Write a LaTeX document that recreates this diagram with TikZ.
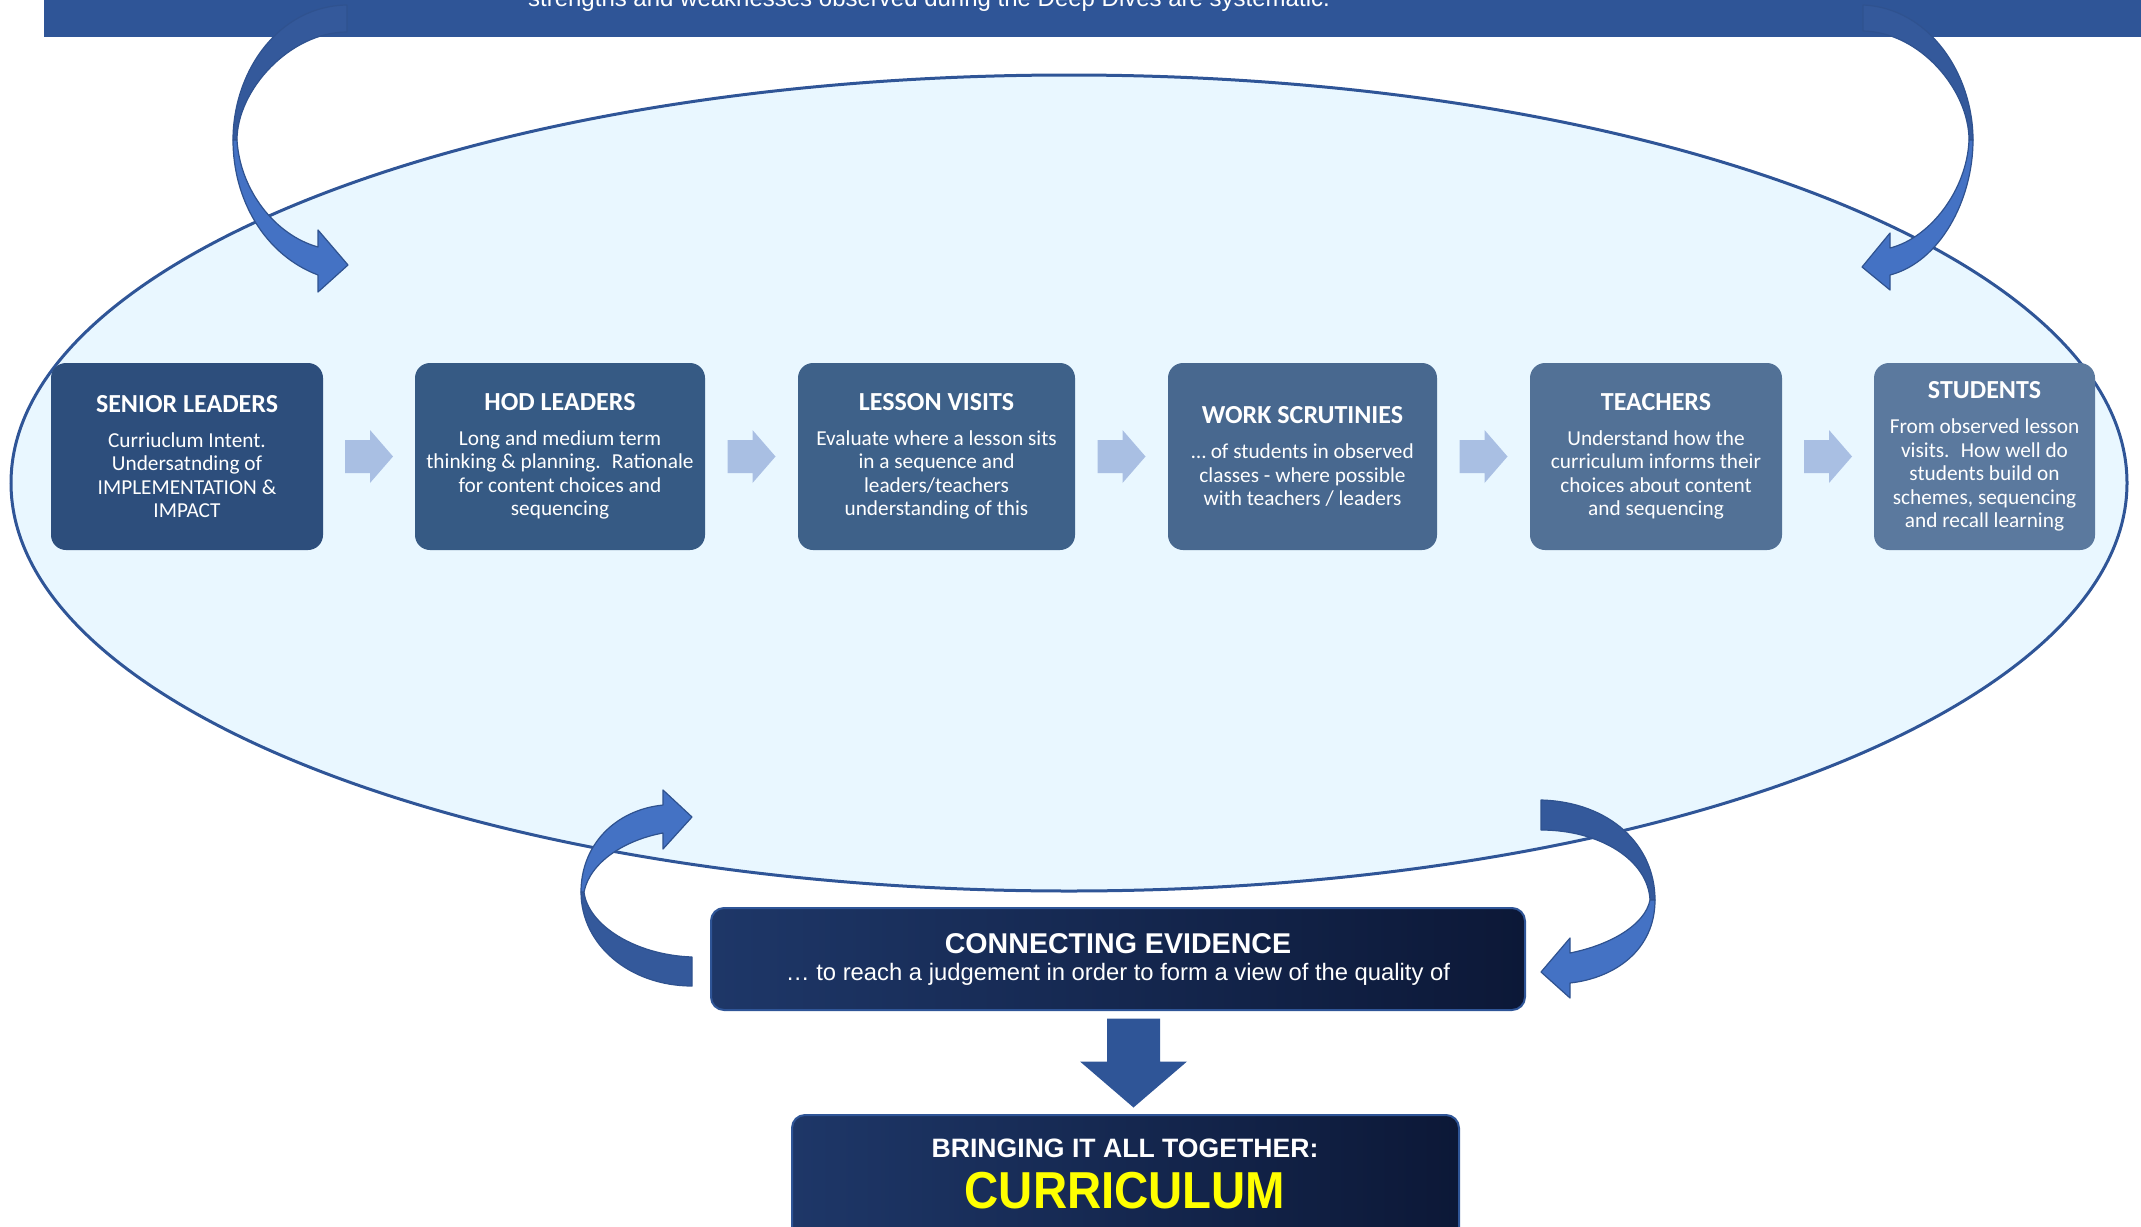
\documentclass[tikz,border=0pt]{standalone}
\usepackage{fontspec}
\setmainfont{Carlito}
\newfontfamily\arialf{Liberation Sans}
\usepackage{graphicx}
\usetikzlibrary{calc}
\definecolor{banner}{HTML}{2F5597}
\definecolor{ellfill}{HTML}{E9F7FF}
\definecolor{ellline}{HTML}{2F5597}
\definecolor{cA}{HTML}{2D4E7C}
\definecolor{cB}{HTML}{365A84}
\definecolor{cC}{HTML}{3E6189}
\definecolor{cD}{HTML}{48688F}
\definecolor{cE}{HTML}{527196}
\definecolor{cF}{HTML}{5B799E}
\definecolor{flowarr}{HTML}{A9BFE3}
\definecolor{backarr}{HTML}{34599B}
\definecolor{frontarr}{HTML}{4472C4}
\definecolor{arrline}{HTML}{2F528F}
\definecolor{darkL}{HTML}{1E3768}
\definecolor{darkR}{HTML}{0C1837}
\definecolor{curyellow}{HTML}{FFFF00}
\newcommand{\ttl}[1]{{\fontsize{26}{30}\selectfont\bfseries #1}\\[11.5pt]}
\begin{document}
\begin{tikzpicture}[x=1pt,y=-1pt,
  stagebox/.style={rounded corners=15pt, inner sep=0pt, text=white, align=center,
    minimum height=187, font=\fontsize{21.3}{23.5}\selectfont},
  darkbox/.style={rounded corners=13pt, inner sep=0pt, draw=banner, line width=2,
    left color=darkL, right color=darkR},
  backpart/.style={fill=backarr, draw=arrline, line width=1.2, line join=round},
  frontpart/.style={fill=frontarr, draw=arrline, line width=1.2, line join=round},
  flowtip/.style={fill=flowarr},
  downtip/.style={fill=banner},
]
\useasboundingbox (0,0) rectangle (2141,1226);

% top banner
\fill[banner] (44,-20) rectangle (2160,37);
\node[anchor=base, text=white, font=\arialf\fontsize{24}{28}\selectfont, inner sep=0] (bantxt) at (929,6)
  {strengths and weaknesses observed during the Deep Dives are systematic.};

% ellipse
\draw[fill=ellfill, draw=ellline, line width=3] (1069,483) ellipse [x radius=1058, y radius=408];

% stage boxes
\node[stagebox, fill=cA, minimum width=272] (b1) at (187,456.5)
  {\ttl{SENIOR LEADERS}Curriuclum Intent.\\Undersatnding of\\IMPLEMENTATION \&\\IMPACT};
\node[stagebox, fill=cB, minimum width=290] (b2) at (560,456.5)
  {\ttl{HOD LEADERS}Long and medium term\\thinking \& planning.~ Rationale\\for content choices and\\sequencing};
\node[stagebox, fill=cC, minimum width=277] (b3) at (936.5,456.5)
  {\ttl{LESSON VISITS}Evaluate where a lesson sits\\in a sequence and\\leaders/teachers\\understanding of this};
\node[stagebox, fill=cD, minimum width=269] (b4) at (1302.5,456.5)
  {\ttl{WORK SCRUTINIES}… of students in observed\\classes - where possible\\with teachers / leaders};
\node[stagebox, fill=cE, minimum width=252] (b5) at (1656,456.5)
  {\ttl{TEACHERS}Understand how the\\curriculum informs their\\choices about content\\and sequencing};
\node[stagebox, fill=cF, minimum width=221] (b6) at (1984.5,456.5)
  {\ttl{STUDENTS}From observed lesson\\visits.~ How well do\\students build on\\schemes, sequencing\\and recall learning};

% flow arrows between boxes
\foreach \a/\b in {b1/b2,b2/b3,b3/b4,b4/b5,b5/b6}{
  \coordinate (m\a) at ($(\a.east)!0.5!(\b.west)$);
  \fill[flowtip, shift={(m\a)}] (-24,-16.5) -- (1,-16.5) -- (1,-26.5) -- (24,0)
     -- (1,26.5) -- (1,16.5) -- (-24,16.5) -- cycle;
}

% top-left curved arrow
\filldraw[backpart] (347,5) .. controls (278,6) and (233,72) .. (233,140) -- (237,140)
  .. controls (237,90) and (290,32) .. (347,32) -- cycle;
\filldraw[frontpart] (233,140) .. controls (233,200) and (265,255) .. (318,275) -- (318,292)
  -- (348,265) -- (318,230) -- (318,247) .. controls (275,235) and (240,190) .. (237,140) -- cycle;

% top-right curved arrow
\filldraw[backpart] (1863,5) .. controls (1930,8) and (1973,75) .. (1973,140) -- (1969,140)
  .. controls (1969,90) and (1920,32) .. (1863,31) -- cycle;
\filldraw[frontpart] (1973,140) .. controls (1973,200) and (1940,262) .. (1890,275) -- (1890,290)
  -- (1862,267) -- (1890,233) -- (1890,248) .. controls (1930,238) and (1967,190) .. (1969,140) -- cycle;

% bottom-left curved arrow
\filldraw[backpart] (692,986) .. controls (630,986) and (581,945) .. (581,892) -- (584,892)
  .. controls (588,925) and (635,955) .. (692,957) -- cycle;
\filldraw[frontpart] (581,892) .. controls (581,845) and (615,810) .. (663,805) -- (663,790)
  -- (692,817) -- (663,849) -- (663,833) .. controls (625,840) and (590,862) .. (584,892) -- cycle;

% bottom-right curved arrow
\filldraw[backpart] (1541,800) .. controls (1610,802) and (1655,845) .. (1655,900) -- (1650,900)
  .. controls (1648,860) and (1600,830) .. (1541,830) -- cycle;
\filldraw[frontpart] (1655,900) .. controls (1655,950) and (1615,978) .. (1570,983) -- (1570,998)
  -- (1541,972) -- (1570,938) -- (1570,953) .. controls (1610,945) and (1645,925) .. (1650,900) -- cycle;

% connecting evidence box
\node[darkbox, minimum width=814, minimum height=102] (ce) at (1118,959) {};
\node[anchor=base, text=white, inner sep=0, font=\arialf\bfseries\fontsize{28.6}{32}\selectfont] (cet) at (1118,953)
  {CONNECTING EVIDENCE};
\node[anchor=base, text=white, inner sep=0, font=\arialf\fontsize{23.8}{28}\selectfont] (ces) at (1118,980)
  {… to reach a judgement in order to form a view of the quality of};

% bringing it all together box
\node[darkbox, minimum width=667, minimum height=140, anchor=north] (bt) at (1125.5,1114) {};
\node[anchor=base, text=white, inner sep=0, font=\arialf\bfseries\fontsize{26.6}{30}\selectfont] (btt) at (1125,1157)
  {BRINGING IT ALL TOGETHER:};
\node[anchor=base, text=curyellow, inner sep=0, font=\arialf\bfseries\fontsize{52}{56}\selectfont] (btc) at (1125,1208)
  {\scalebox{0.91}[1]{CURRICULUM}};

% down arrow between boxes
\coordinate (dm) at ($(ce.south)!0.5!(bt.north)$);
\fill[downtip, shift={($(dm)+(11.75,0)$)}] (-26.5,-44) -- (26.5,-44) -- (26.5,-1) -- (53.5,-1)
  -- (0,45) -- (-53.5,-1) -- (-26.5,-1) -- cycle;
\end{tikzpicture}
\end{document}
